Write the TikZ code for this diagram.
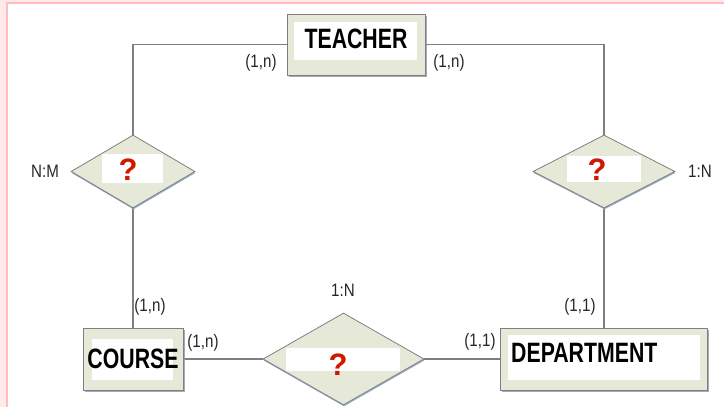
\documentclass[tikz,border=0pt]{standalone}
\usepackage{fontspec}
\setmainfont{Liberation Sans}[FakeStretch=0.84]
\newfontfamily\qfont{Liberation Sans}
\newfontfamily\efont{Liberation Sans}[FakeStretch=0.76]
\usetikzlibrary{shapes.geometric,shadows,backgrounds}
\definecolor{boxfill}{HTML}{E6E9D7}
\definecolor{boxline}{HTML}{7F7F7F}
\definecolor{shadowc}{HTML}{8C96A8}
\definecolor{dshadow}{HTML}{8FA6CC}
\definecolor{qred}{HTML}{D01800}
\definecolor{pinklight}{HTML}{FFE9E9}
\definecolor{pinkline}{HTML}{FFBDBD}
\tikzset{
  entity/.style={draw=boxline, line width=0.8pt, fill=boxfill, inner sep=0pt,
    drop shadow={shadow xshift=1.5pt, shadow yshift=-2pt, fill=shadowc, opacity=0.8}},
  relation/.style={diamond, draw=boxline, line width=0.8pt, fill=boxfill, inner sep=0pt, aspect=1,
    drop shadow={shadow xshift=0.5pt, shadow yshift=-1.5pt, fill=dshadow, opacity=0.9}},
  whitebox/.style={fill=white, draw=none, inner sep=0pt},
  etext/.style={font=\efont\fontsize{28}{30}\selectfont\bfseries, text=black, inner sep=0pt},
  qmark/.style={font=\qfont\fontsize{31}{32}\selectfont\bfseries, text=qred, inner sep=0pt},
  card/.style={font=\fontsize{18}{20}\selectfont, text=black!85, inner sep=0pt},
  conn/.style={draw=boxline, line width=1.1pt}
}
\begin{document}
\begin{tikzpicture}[x=1pt,y=-1pt]
\useasboundingbox (0,0) rectangle (724,407);
% entities
\node[entity, minimum width=138pt, minimum height=61pt] (teacher) at (356,44.5) {};
\node[whitebox, minimum width=123pt, minimum height=38pt] (teacherw) at (355.5,41) {};
\node[etext] (teachert) at (356,39) {TEACHER};

\node[entity, minimum width=100pt, minimum height=62pt] (course) at (133,359) {};
\node[whitebox, minimum width=81pt, minimum height=41pt] (coursew) at (132.5,359.5) {};
\node[etext] (courset) at (133,359) {COURSE};

\node[entity, minimum width=207pt, minimum height=62pt] (dept) at (603.5,359) {};
\node[whitebox, minimum width=192pt, minimum height=45pt] (deptw) at (604,357.5) {};
\node[etext, anchor=west] (deptt) at (511,353) {DEPARTMENT};

% relationships
\node[relation, minimum width=124pt, minimum height=73pt] (ld) at (133,171.5) {};
\node[whitebox, minimum width=61pt, minimum height=29pt] (ldw) at (132.5,168.5) {};
\node[qmark] (ldq) at (128,170) {?};

\node[relation, minimum width=142pt, minimum height=73pt] (rd) at (604,171.5) {};
\node[whitebox, minimum width=74pt, minimum height=26pt] (rdw) at (604,169) {};
\node[qmark] (rdq) at (597,170) {?};

\node[relation, minimum width=161pt, minimum height=92pt] (bd) at (343.5,359) {};
\node[whitebox, minimum width=114pt, minimum height=23pt] (bdw) at (343,359.5) {};
\node[qmark] (bdq) at (338,365) {?};

% labels
\node[card] (l1) at (261,63) {(1,n)};
\node[card] (l2) at (449,63) {(1,n)};
\node[card] (l3) at (45,171) {N:M};
\node[card] (l4) at (700,171) {1:N};
\node[card] (l5) at (150,307) {(1,n)};
\node[card] (l6) at (203,343) {(1,n)};
\node[card] (l7) at (343,290) {1:N};
\node[card] (l8) at (580,307) {(1,1)};
\node[card] (l9) at (480,342) {(1,1)};

\begin{scope}[on background layer]
\fill[white] (0,0) rectangle (724,407);
\fill[pinklight] (0,0) rectangle (724,2);
\fill[pinklight] (0,0) rectangle (6,407);
\fill[pinkline] (6,2) rectangle (724,4);
\fill[pinkline] (6,2) rectangle (8,407);
\draw[conn] (teacher.west) -| (ld.north);
\draw[conn] (teacher.east) -| (rd.north);
\draw[conn] (ld.south) -- (course.north);
\draw[conn] (course.east) -- (bd.west);
\draw[conn] (bd.east) -- (dept.west);
\draw[conn] (rd.south) -- (rd.south |- dept.north);
\end{scope}
\end{tikzpicture}
\end{document}
